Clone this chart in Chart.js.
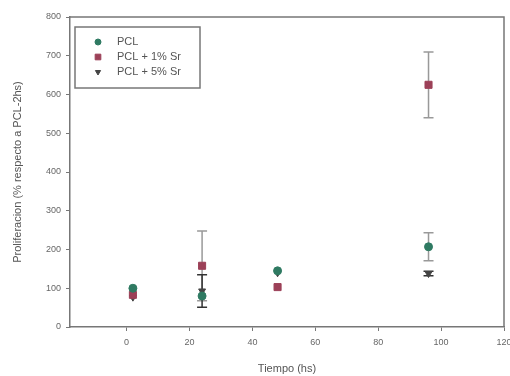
<!DOCTYPE html>
<html>
<head>
<meta charset="utf-8">
<script src="https://cdn.jsdelivr.net/npm/chart.js@4"></script>
<style>
  html, body { margin: 0; padding: 0; background: #fff; }
  #wrap { width: 510px; height: 376px; }
</style>
</head>
<body>
<div id="wrap"><canvas id="chart" width="510" height="376"></canvas></div>
<script>
// tiempo (hs) y proliferación (% respecto a PCL-2hs)
const seriesNames = ["PCL", "PCL + 1% Sr", "PCL + 5% Sr"];
const pclX = [2, 24, 48, 96];
const pclY = [100, 80, 145, 207];
const pclErr = [0, 0, 0, 36];
const sr1X = [2, 24, 48, 96];
const sr1Y = [83, 158, 103, 625];
const sr1Err = [0, 90, 0, 85];
const sr5X = [2, 24, 48, 96];
const sr5Y = [77, 93, 140, 138];
const sr5Err = [0, 42, 0, 6];
const xTicks = [0, 20, 40, 60, 80, 100, 120];

const toPts = (xs, ys, es) => xs.map((x, i) => ({ x: x, y: ys[i], err: es[i] }));

// barras de error + marco superior/derecho
const errorBars = {
    id: "errorBars",
    beforeDatasetsDraw(chart) {
        const { ctx, scales } = chart;
        chart.data.datasets.forEach((ds) => {
            ctx.save();
            ctx.strokeStyle = ds.errColor;
            ctx.lineWidth = 1.5;
            ds.data.forEach((p) => {
                if (!p.err) return;
                const x = scales.x.getPixelForValue(p.x);
                const top = scales.y.getPixelForValue(p.y + p.err);
                const bot = scales.y.getPixelForValue(p.y - p.err);
                ctx.beginPath();
                ctx.moveTo(x, top); ctx.lineTo(x, bot);
                ctx.moveTo(x - 5, top); ctx.lineTo(x + 5, top);
                ctx.moveTo(x - 5, bot); ctx.lineTo(x + 5, bot);
                ctx.stroke();
            });
            ctx.restore();
        });
    },
    afterDraw(chart) {
        const { ctx, chartArea: a } = chart;
        ctx.save();
        ctx.strokeStyle = "#777";
        ctx.lineWidth = 1.5;
        ctx.beginPath();
        ctx.moveTo(a.left, a.top); ctx.lineTo(a.right, a.top); ctx.lineTo(a.right, a.bottom);
        ctx.stroke();
        ctx.restore();
    },
};

const ctx = document.getElementById("chart").getContext("2d");
new Chart(ctx, {
    type: "scatter",
    data: {
        datasets: [
            {
                label: seriesNames[0],
                data: toPts(pclX, pclY, pclErr),
                pointStyle: "circle",
                pointRadius: 4,
                backgroundColor: "#2f7a62",
                borderColor: "#2f7a62",
                errColor: "#999",
            },
            {
                label: seriesNames[1],
                data: toPts(sr1X, sr1Y, sr1Err),
                pointStyle: "rect",
                pointRadius: 5,
                backgroundColor: "#9c4058",
                borderColor: "#9c4058",
                errColor: "#999",
            },
            {
                label: seriesNames[2],
                data: toPts(sr5X, sr5Y, sr5Err),
                pointStyle: "triangle",
                rotation: 180,
                pointRadius: 4,
                backgroundColor: "#444",
                borderColor: "#444",
                errColor: "#333",
            },
        ],
    },
    options: {
        responsive: false,
        animation: false,
        layout: { padding: { top: 17, right: 5, left: 0, bottom: 0 } },
        plugins: {
            legend: { display: false },
            tooltip: { enabled: false },
        },
        scales: {
            x: {
                type: "linear",
                min: -18,
                max: 120,
                afterBuildTicks: (s) => { s.ticks = xTicks.map((v) => ({ value: v })); },
                afterFit: (s) => { s.height = 49; s.paddingRight = 0; },
                grid: { display: true, drawOnChartArea: false, tickLength: 4, color: "#777" },
                border: { display: true, color: "#777", width: 1.5 },
                ticks: { color: "#666", font: { family: "Liberation Sans", size: 9 }, padding: 6, maxRotation: 0 },
                title: {
                    display: true,
                    text: "Tiempo (hs)",
                    color: "#555",
                    font: { family: "Liberation Sans", size: 11 },
                    padding: { top: 1, bottom: 0 },
                },
            },
            y: {
                min: 0,
                max: 800,
                afterFit: (s) => { s.width = 70; },
                grid: { display: true, drawOnChartArea: false, tickLength: 4, color: "#777" },
                border: { display: true, color: "#777", width: 1.5 },
                ticks: { stepSize: 100, color: "#666", font: { family: "Liberation Sans", size: 9 }, padding: 5 },
                title: {
                    display: true,
                    text: "Proliferacion (% respecto a PCL-2hs)",
                    color: "#555",
                    font: { family: "Liberation Sans", size: 11 },
                    padding: { top: 11, bottom: 0 },
                },
            },
        },
    },
    plugins: [errorBars, {
        id: "boxLegend",
        afterDraw(chart) {
            const c = chart.ctx;
            c.save();
            c.lineWidth = 1.5;
            c.strokeStyle = "#777";
            c.strokeRect(75, 27, 125, 61);
            c.font = "11px 'Liberation Sans'";
            c.textBaseline = "middle";
            chart.data.datasets.forEach((ds, i) => {
                const y = 42 + i * 15;
                c.fillStyle = ds.backgroundColor;
                c.strokeStyle = ds.borderColor;
                c.lineWidth = 1;
                Chart.helpers.drawPoint(c, {
                    pointStyle: ds.pointStyle,
                    radius: ds.pointRadius - 1,
                    rotation: ds.rotation || 0,
                    borderWidth: 1,
                }, 98, y);
                c.fillStyle = "#555";
                c.fillText(ds.label, 117, y);
            });
            c.restore();
        },
    }],
});
</script>
</body>
</html>
